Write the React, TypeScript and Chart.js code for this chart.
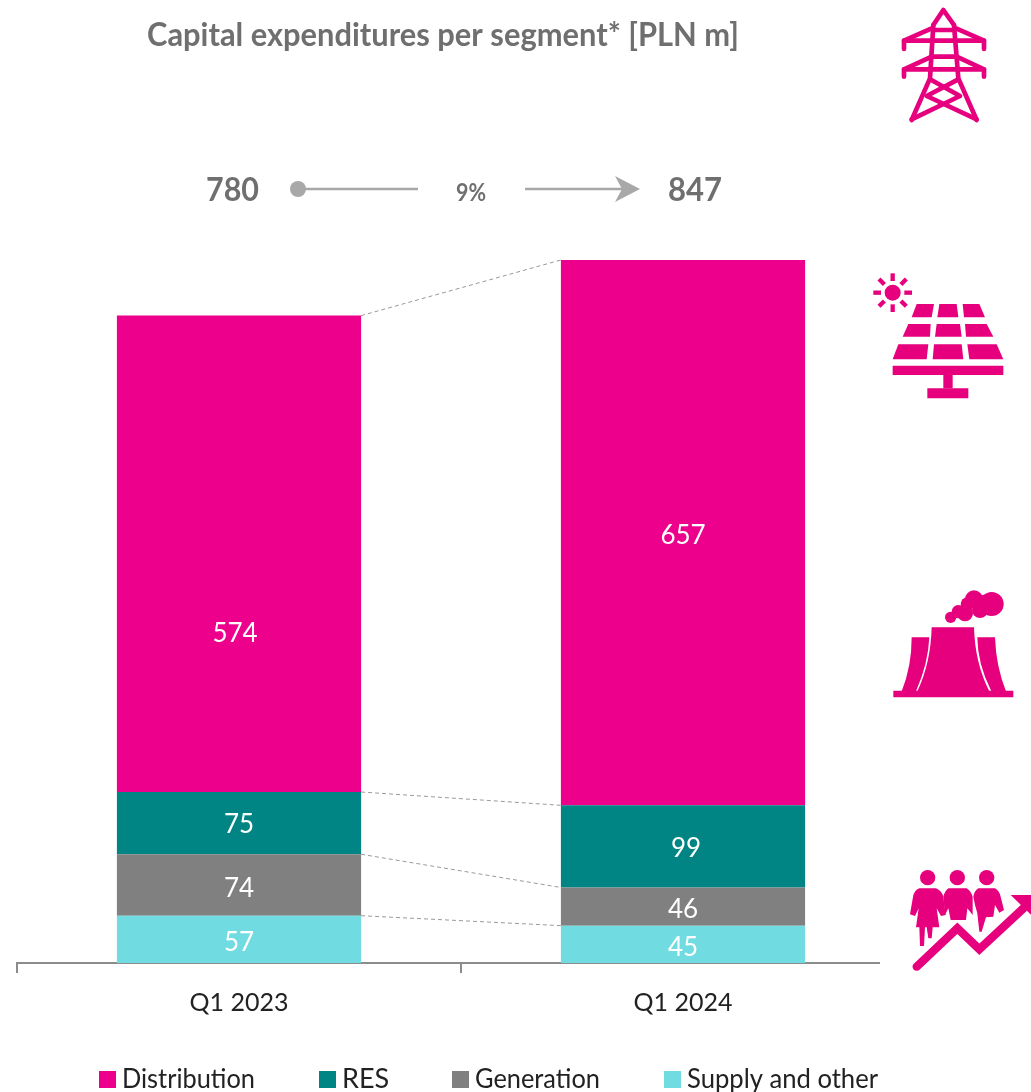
import React, { useEffect, useRef } from "react";
import { Chart, registerables } from "chart.js";

Chart.register(...registerables);

const categories = ["Q1 2023", "Q1 2024"];
const distribution = [574, 657];
const res = [75, 99];
const generation = [74, 46];
const supply = [57, 45];
const totals = [780, 847];
const growth = "9%";
const titleText = "Capital expenditures per segment* [PLN m]";

const PINK = "#ec008c";
const ICON = "#e6007e";
const TEAL = "#008484";
const GRAY = "#808080";
const CYAN = "#70dbe0";
const TEXT_GRAY = "#6f6f6f";
const LINE_GRAY = "#a8a8a8";
const FONT = "Lato, 'Open Sans', sans-serif";

function poly(ctx: CanvasRenderingContext2D, pts: number[]) {
  ctx.beginPath();
  ctx.moveTo(pts[0], pts[1]);
  for (let i = 2; i < pts.length; i += 2) ctx.lineTo(pts[i], pts[i + 1]);
  ctx.closePath();
  ctx.fill();
}

function lines(ctx: CanvasRenderingContext2D, list: number[][]) {
  for (const pts of list) {
    ctx.beginPath();
    ctx.moveTo(pts[0], pts[1]);
    for (let i = 2; i < pts.length; i += 2) ctx.lineTo(pts[i], pts[i + 1]);
    ctx.stroke();
  }
}

function circle(ctx: CanvasRenderingContext2D, x: number, y: number, r: number) {
  ctx.beginPath();
  ctx.arc(x, y, r, 0, Math.PI * 2);
  ctx.fill();
}

function drawIcons(ctx: CanvasRenderingContext2D) {
  ctx.save();
  ctx.fillStyle = ICON;
  ctx.strokeStyle = ICON;
  ctx.lineCap = "round";
  ctx.lineJoin = "round";

  // tower
  ctx.save();
  ctx.translate(880, 0);
  ctx.scale(1 / 3, 1 / 3);
  ctx.lineWidth = 14;
  lines(ctx, [
    [160, 75, 190, 30, 222, 75],
    [160, 75, 150, 235, 95, 360],
    [222, 75, 235, 235, 290, 360],
    [160, 90, 222, 90],
    [72, 147, 72, 122, 312, 122, 312, 147],
    [72, 122, 155, 85],
    [312, 122, 228, 85],
    [72, 230, 72, 208, 312, 208, 312, 230],
    [72, 208, 155, 170],
    [312, 208, 230, 170],
    [155, 170, 230, 170],
    [150, 238, 240, 288, 95, 358],
    [235, 238, 140, 288, 290, 358],
  ]);
  // solar panel
  circle(ctx, 38, 878, 24);
  ctx.lineWidth = 13;
  ctx.lineCap = "butt";
  for (let i = 0; i < 8; i++) {
    const a = (i * Math.PI) / 4;
    ctx.beginPath();
    ctx.moveTo(38 + Math.cos(a) * 35, 878 + Math.sin(a) * 35);
    ctx.lineTo(38 + Math.cos(a) * 58, 878 + Math.sin(a) * 58);
    ctx.stroke();
  }
  const cells = [
    [110, 912, 162, 912, 155, 952, 95, 952],
    [178, 912, 230, 912, 235, 952, 172, 952],
    [248, 912, 298, 912, 315, 952, 252, 952],
    [85, 972, 152, 972, 150, 1010, 68, 1010],
    [170, 972, 240, 972, 245, 1010, 165, 1010],
    [255, 972, 320, 972, 340, 1010, 258, 1010],
    [55, 1033, 145, 1033, 140, 1078, 38, 1078],
    [162, 1033, 245, 1033, 250, 1078, 158, 1078],
    [262, 1033, 350, 1033, 370, 1078, 268, 1078],
    [38, 1097, 370, 1097, 370, 1125, 38, 1125],
    [190, 1125, 218, 1125, 218, 1165, 190, 1165],
    [142, 1165, 265, 1165, 265, 1195, 142, 1195],
  ];
  cells.forEach((c) => poly(ctx, c));
  ctx.restore();

  // cooling towers and people
  ctx.save();
  ctx.translate(880, 580);
  ctx.scale(1 / 3, 1 / 3);
  poly(ctx, [40, 332, 400, 332, 400, 352, 40, 352]);
  const shape = (s: string) => ctx.fill(new Path2D(s));
  shape("M155 142 L282 142 Q285 250 328 334 L112 334 Q152 250 155 142 Z");
  shape("M95 172 L148 172 Q145 250 108 334 L65 334 Q95 260 95 172 Z");
  shape("M292 172 L345 172 Q348 260 378 334 L334 334 Q292 250 292 172 Z");
  [
    [212, 112, 17],
    [235, 95, 20],
    [255, 100, 24],
    [262, 72, 20],
    [282, 58, 27],
    [300, 90, 24],
    [312, 72, 28],
    [335, 72, 36],
  ].forEach(([x, y, r]) => circle(ctx, x, y, r));

  [143, 232, 320].forEach((x) => circle(ctx, x, 893, 23));
  shape("M118 925 L168 925 Q185 932 190 950 L197 1005 L183 1008 L170 985 L178 1042 L158 1042 L155 1075 L145 1075 L140 1042 L135 1042 L132 1098 L120 1098 L118 1042 L108 1042 L116 985 L105 1008 L90 1003 L100 945 Q105 930 118 925 Z");
  shape("M205 925 L260 925 Q272 932 278 950 L278 1005 L262 985 L258 1020 L212 1020 L205 985 L195 1005 L190 950 Q195 932 205 925 Z");
  shape("M295 925 L345 925 Q358 932 362 950 L372 990 L358 998 L345 975 L340 1010 L318 1012 L305 1055 L298 1055 L292 1000 L285 975 L280 950 Q283 932 295 925 Z");
  ctx.lineWidth = 25;
  ctx.lineCap = "round";
  ctx.lineJoin = "miter";
  lines(ctx, [[110, 1160, 232, 1045, 298, 1108, 430, 985]]);
  poly(ctx, [392, 945, 480, 945, 480, 1030]);
  ctx.restore();
  ctx.restore();
}

const decorPlugin = {
  id: "decor",
  beforeDatasetsDraw(chart: any) {
    const { ctx, scales } = chart;
    const x = scales.x;
    const y = scales.y;
    // connectors between the stacks
    const metas = [0, 1, 2, 3].map((i) => chart.getDatasetMeta(i));
    ctx.save();
    ctx.strokeStyle = "#999999";
    ctx.lineWidth = 1;
    ctx.setLineDash([4, 3]);
    metas.forEach((m: any) => {
      const a = m.data[0];
      const b = m.data[1];
      ctx.beginPath();
      ctx.moveTo(a.x + a.width / 2, a.y);
      ctx.lineTo(b.x - b.width / 2, b.y);
      ctx.stroke();
    });
    ctx.restore();
    // axis baseline with ticks on the category edges
    const base = y.getPixelForValue(0);
    ctx.save();
    ctx.strokeStyle = "#8c8c8c";
    ctx.lineWidth = 2;
    ctx.beginPath();
    ctx.moveTo(x.left, base + 10);
    ctx.lineTo(x.left, base);
    ctx.lineTo(880, base);
    ctx.moveTo(x.left + x.width / 2, base);
    ctx.lineTo(x.left + x.width / 2, base + 10);
    ctx.stroke();
    ctx.restore();
  },
  afterDatasetsDraw(chart: any) {
    const { ctx, data } = chart;
    ctx.save();
    ctx.fillStyle = "#ffffff";
    ctx.font = `400 26px ${FONT}`;
    ctx.textAlign = "center";
    ctx.textBaseline = "middle";
    const nudges: Record<string, number[]> = {
      "3-0": [-4, 80],
      "3-1": [0, 3],
      "2-1": [3, 2],
      "2-0": [0, 1],
      "1-0": [0, 4],
      "1-1": [0, 3],
      "0-0": [0, 3],
      "0-1": [0, 3],
    };
    data.datasets.forEach((ds: any, i: number) => {
      chart.getDatasetMeta(i).data.forEach((bar: any, j: number) => {
        const [dx, dy] = nudges[`${i}-${j}`] || [0, 0];
        ctx.fillText(String(ds.data[j]), bar.x + dx, (bar.y + bar.base) / 2 + dy);
      });
    });
    ctx.restore();

    // title
    ctx.save();
    ctx.fillStyle = TEXT_GRAY;
    ctx.textBaseline = "middle";
    ctx.textAlign = "left";
    ctx.font = `700 32px ${FONT}`;
    ctx.fillText(titleText, 147, 36, 592);
    // totals strip
    ctx.font = `700 32px ${FONT}`;
    ctx.fillText(String(totals[0]), 206, 191, 53);
    ctx.fillText(String(totals[1]), 668, 191, 54);
    ctx.font = `700 25px ${FONT}`;
    ctx.fillText(growth, 456, 193, 30);
    ctx.strokeStyle = LINE_GRAY;
    ctx.fillStyle = LINE_GRAY;
    ctx.lineWidth = 2.5;
    circle(ctx, 298, 189, 8);
    ctx.beginPath();
    ctx.moveTo(298, 189);
    ctx.lineTo(418, 189);
    ctx.moveTo(525, 189);
    ctx.lineTo(625, 189);
    ctx.stroke();
    poly(ctx, [615, 176, 640, 189, 615, 202, 622, 189]);
    ctx.restore();

    // legend
    ctx.save();
    ctx.font = `400 27px ${FONT}`;
    ctx.textBaseline = "middle";
    ctx.textAlign = "left";
    const order = [...data.datasets].reverse();
    const slots = [
      [99, 133],
      [319, 66],
      [452, 125],
      [664, 191],
    ];
    order.forEach((ds: any, i: number) => {
      const [lx, w] = slots[i];
      ctx.fillStyle = ds.backgroundColor;
      ctx.fillRect(lx, 1071, 17, 17);
      ctx.fillStyle = "#222222";
      ctx.fillText(ds.label, lx + 23, 1079, w);
    });
    ctx.restore();

    drawIcons(ctx);
  },
};

export default function App() {
  const ref = useRef<HTMLCanvasElement>(null);
  useEffect(() => {
    const chart = new Chart(ref.current as HTMLCanvasElement, {
      type: "bar",
      data: {
        labels: categories,
        datasets: [
          { label: "Supply and other", data: supply, backgroundColor: CYAN },
          { label: "Generation", data: generation, backgroundColor: GRAY },
          { label: "RES", data: res, backgroundColor: TEAL },
          { label: "Distribution", data: distribution, backgroundColor: PINK },
        ],
      },
      options: {
        animation: false,
        responsive: false,
        layout: { padding: { left: 17, right: 126, top: 260, bottom: 59 } },
        datasets: { bar: { categoryPercentage: 1, barPercentage: 0.55 } },
        plugins: { legend: { display: false }, tooltip: { enabled: false } },
        scales: {
          x: {
            stacked: true,
            border: { display: false },
            grid: { display: false },
            afterFit: (s: any) => {
              s.height = 70;
            },
            ticks: {
              color: "#222222",
              padding: 17,
              maxRotation: 0,
              font: { family: FONT, size: 25, weight: "400" },
            },
          },
          y: { stacked: true, display: false, min: 0, max: 847 },
        },
      },
      plugins: [decorPlugin],
    } as any);
    return () => chart.destroy();
  }, []);
  return (
    <div style={{ position: "absolute", left: 0, top: 0, width: 1031, height: 1092, overflow: "hidden" }}>
      <canvas ref={ref} width={1031} height={1092} style={{ display: "block" }} />
    </div>
  );
}
